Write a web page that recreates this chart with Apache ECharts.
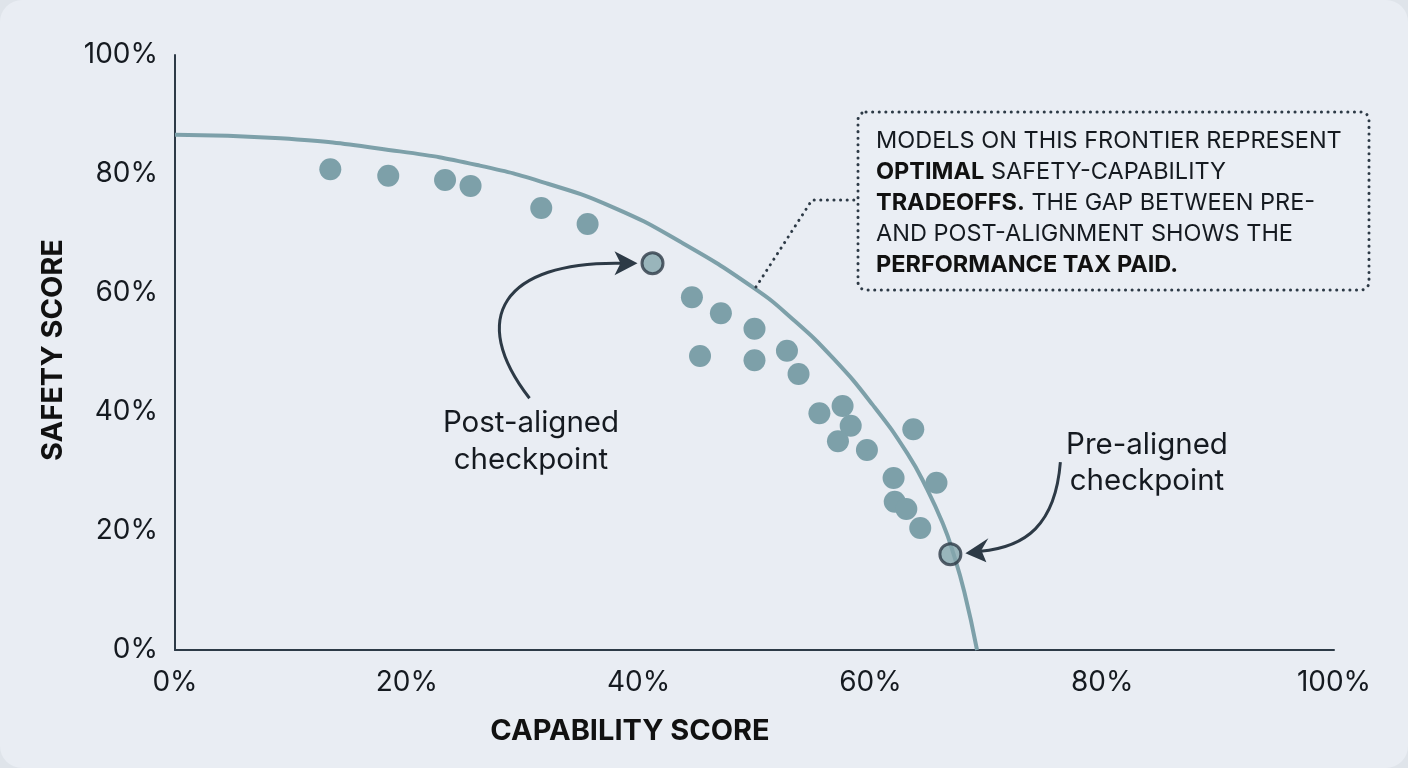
<!DOCTYPE html>
<html>
<head>
<meta charset="utf-8">
<script src="https://cdn.jsdelivr.net/npm/echarts@6/dist/echarts.min.js"></script>
<style>
    html,body{margin:0;padding:0;background:#dfe4ea;}
    #chart{width:1408px;height:768px;background:#e9edf3;border-radius:22px;overflow:hidden;}
</style>
</head>
<body>
<div id="chart"></div>
<script>
// frontier curve (capability %, safety %)
var frontierX = [0, 9.1, 19.4, 26.3, 32.1, 37.8, 43.6, 49.9, 53.3, 56.8, 60.2, 63.2, 64.9, 66.3, 67.1, 68.1, 69.2];
var frontierY = [86.6, 86.0, 83.8, 81.4, 78.4, 74.4, 68.6, 60.9, 55.6, 49.0, 41.2, 33.0, 27.0, 21.0, 16.6, 9.8, 0];

// model checkpoints
var modelX = [13.4, 18.4, 23.3, 25.5, 31.6, 35.6, 44.6, 47.1, 50.0, 45.3, 50.0, 52.8, 53.8, 55.6, 57.6, 58.3, 57.2, 59.7, 63.7, 62.0, 65.7, 62.1, 63.1, 64.3];
var modelY = [80.8, 79.7, 79.0, 78.0, 74.3, 71.6, 59.3, 56.6, 54.0, 49.4, 48.7, 50.3, 46.4, 39.8, 41.0, 37.7, 35.1, 33.6, 37.1, 28.9, 28.1, 24.9, 23.7, 20.5];

var postAligned = [41.2, 65.0];
var preAligned = [66.9, 16.1];

var axisTicks = [0, 20, 40, 60, 80, 100];

var FONT = 'Inter, "Noto Sans", sans-serif';
var INK = '#2d3a46';
var TEAL = '#7da0a9';

var myChart = echarts.init(document.getElementById('chart'));

var frontier = frontierX.map(function (x, i) { return [x, frontierY[i]]; });
var models = modelX.map(function (x, i) { return [x, modelY[i]]; });

var axisCommon = {
    type: 'value',
    min: axisTicks[0],
    max: axisTicks[axisTicks.length - 1],
    interval: axisTicks[1] - axisTicks[0],
    splitLine: { show: false },
    axisTick: { show: false },
    axisLine: { show: true, lineStyle: { color: INK, width: 2 } },
    axisLabel: {
        formatter: '{value}%',
        color: '#151a20',
        fontFamily: FONT,
        fontSize: 28
    }
};

myChart.setOption({
    animation: false,
    grid: { left: 175, right: 74, top: 55, bottom: 118, containLabel: false },
    xAxis: echarts.util.merge({ axisLabel: { margin: 19 } }, axisCommon, true),
    yAxis: echarts.util.merge({ axisLabel: { margin: 17 } }, axisCommon, true),
    series: [
        {
            type: 'line',
            data: frontier,
            smooth: 0.5,
            showSymbol: false,
            lineStyle: { color: TEAL, width: 4 },
            z: 2
        },
        {
            type: 'scatter',
            data: models,
            symbolSize: 22,
            itemStyle: { color: TEAL, opacity: 1 },
            z: 3
        },
        {
            type: 'scatter',
            data: [postAligned, preAligned],
            symbolSize: 21,
            itemStyle: { color: '#84a6ad', borderColor: INK, borderWidth: 3 },
            z: 4
        }
    ]
});

// 注释: arrows anchored on the two checkpoints
var p = myChart.convertToPixel({ gridIndex: 0 }, postAligned);
var q = myChart.convertToPixel({ gridIndex: 0 }, preAligned);
var t1 = [p[0] - 15, p[1]];
var t2 = [q[0] + 15, q[1] - 1];

var arrowLine = { stroke: INK, lineWidth: 3, fill: null };
var dotted = { stroke: INK, lineWidth: 3, lineDash: [0.1, 6.5], lineCap: 'round' };

myChart.setOption({
    graphic: [
        // axis names
        {
            type: 'text', x: 630, y: 731,
            style: { text: 'CAPABILITY SCORE', font: 'bold 29px ' + FONT, fill: '#111', align: 'center', verticalAlign: 'middle' }
        },
        {
            type: 'text', x: 53, y: 350, rotation: Math.PI / 2,
            style: { text: 'SAFETY SCORE', font: 'bold 29px ' + FONT, fill: '#111', align: 'center', verticalAlign: 'middle' }
        },
        // post-aligned arrow
        {
            type: 'bezierCurve',
            shape: { x1: t1[0] - 108, y1: t1[1] + 135, cpx1: t1[0] - 170, cpy1: t1[1] + 55, cpx2: t1[0] - 135, cpy2: t1[1] - 2, x2: t1[0] - 16, y2: t1[1] },
            style: arrowLine, z: 10
        },
        {
            type: 'polygon',
            shape: { points: [t1, [t1[0] - 23, t1[1] - 12], [t1[0] - 17, t1[1]], [t1[0] - 23, t1[1] + 12]] },
            style: { fill: INK }, z: 10
        },
        {
            type: 'text', x: 531, y: 442,
            style: { text: 'Post-aligned\ncheckpoint', font: '29.5px ' + FONT, lineHeight: 37, fill: '#151a20', align: 'center', verticalAlign: 'middle' }
        },
        // pre-aligned arrow
        {
            type: 'bezierCurve',
            shape: { x1: t2[0] + 95, y1: t2[1] - 91, cpx1: t2[0] + 90, cpy1: t2[1] - 28, cpx2: t2[0] + 60, cpy2: t2[1] - 6, x2: t2[0] + 15, y2: t2[1] - 2 },
            style: arrowLine, z: 10
        },
        {
            type: 'polygon',
            shape: { points: [t2, [t2[0] + 23, t2[1] - 15], [t2[0] + 16, t2[1] - 3], [t2[0] + 21, t2[1] + 9]] },
            style: { fill: INK }, z: 10
        },
        {
            type: 'text', x: 1147, y: 463,
            style: { text: 'Pre-aligned\ncheckpoint', font: '29.5px ' + FONT, lineHeight: 36, fill: '#151a20', align: 'center', verticalAlign: 'middle' }
        },
        // frontier callout
        {
            type: 'polyline',
            shape: { points: [[756, 287], [812, 200], [858, 200]] },
            style: echarts.util.extend({ fill: null }, dotted), z: 10
        },
        {
            type: 'rect',
            shape: { x: 858, y: 112, width: 511, height: 178, r: 8 },
            style: echarts.util.extend({ fill: '#eaeef4' }, dotted), z: 10
        },
        {
            type: 'text', x: 876, y: 125, z: 11,
            style: {
                text: 'MODELS ON THIS FRONTIER REPRESENT\n{b|OPTIMAL} SAFETY-CAPABILITY\n{b|TRADEOFFS.} THE GAP BETWEEN PRE-\nAND POST-ALIGNMENT SHOWS THE\n{b|PERFORMANCE TAX PAID.}',
                font: '23.5px ' + FONT,
                fill: '#151a20',
                lineHeight: 31,
                rich: {
                    b: { fontWeight: 'bold', fontSize: 23.5, fontFamily: FONT, fill: '#111', lineHeight: 31 }
                }
            }
        }
    ]
});
</script>
</body>
</html>
